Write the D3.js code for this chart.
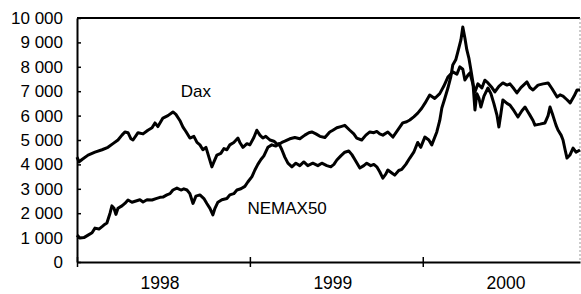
<!DOCTYPE html>
<html lang="de">
<head>
<meta charset="UTF-8">
<title>Dax und NEMAX50</title>
<script src="https://cdn.jsdelivr.net/npm/d3@7"></script>
<style>
  body { margin: 0; background: #fff; }
  svg { display: block; font-family: "Liberation Sans", Arial, Helvetica, sans-serif; }
</style>
</head>
<body>
<svg id="chart" width="581" height="294"></svg>
<script>
// time given as decimal years, values in index points
const daxTimes = [1998.000, 1998.012, 1998.029, 1998.064, 1998.104, 1998.145, 1998.179, 1998.208, 1998.237, 1998.260,
  1998.277, 1998.295, 1998.312, 1998.324, 1998.353, 1998.382, 1998.410, 1998.434, 1998.451, 1998.468,
  1998.497, 1998.526, 1998.555, 1998.572, 1998.595, 1998.613, 1998.630, 1998.653, 1998.676, 1998.694,
  1998.711, 1998.728, 1998.746, 1998.763, 1998.780, 1998.792, 1998.809, 1998.832, 1998.850, 1998.867,
  1998.884, 1998.907, 1998.931, 1998.942, 1998.960, 1998.983, 1999.000, 1999.023, 1999.040, 1999.058,
  1999.075, 1999.092, 1999.116, 1999.139, 1999.162, 1999.185, 1999.202, 1999.231, 1999.260, 1999.289,
  1999.318, 1999.341, 1999.358, 1999.382, 1999.405, 1999.434, 1999.462, 1999.480, 1999.503, 1999.526,
  1999.549, 1999.578, 1999.601, 1999.618, 1999.647, 1999.671, 1999.694, 1999.717, 1999.734, 1999.751,
  1999.769, 1999.798, 1999.827, 1999.855, 1999.884, 1999.907, 1999.925, 1999.948, 1999.971, 1999.994,
  2000.012, 2000.040, 2000.069, 2000.098, 2000.121, 2000.145, 2000.173, 2000.197, 2000.214, 2000.231,
  2000.243, 2000.260, 2000.272, 2000.289, 2000.301, 2000.318, 2000.341, 2000.358, 2000.376, 2000.399,
  2000.416, 2000.439, 2000.462, 2000.486, 2000.503, 2000.526, 2000.543, 2000.566, 2000.601, 2000.618,
  2000.636, 2000.665, 2000.694, 2000.723, 2000.746, 2000.775, 2000.792, 2000.809, 2000.832, 2000.850,
  2000.873, 2000.890, 2000.907];
const daxValues = [4300, 4100, 4200, 4380, 4500, 4600, 4700, 4850, 5000, 5200,
  5330, 5300, 5050, 5000, 5300, 5250, 5400, 5500, 5700, 5550,
  5900, 6000, 6150, 6050, 5800, 5530, 5350, 5080, 5150, 4900,
  4800, 4600, 4700, 4300, 3900, 4100, 4380, 4450, 4650, 4600,
  4800, 4900, 5080, 4900, 4700, 4850, 4800, 5100, 5400, 5200,
  5080, 5150, 5000, 4950, 4800, 4900, 4950, 5050, 5100, 5050,
  5200, 5300, 5330, 5250, 5150, 5100, 5330, 5400, 5500, 5550,
  5600, 5400, 5250, 5080, 5000, 5200, 5330, 5300, 5350, 5250,
  5200, 5330, 5120, 5400, 5700, 5750, 5820, 5950, 6100, 6300,
  6500, 6840, 6700, 6900, 7200, 7580, 7790, 7700, 8000, 7900,
  7460, 7650, 7750, 7300, 6970, 7300, 7130, 7450, 7340, 7150,
  6970, 7200, 7340, 7250, 7300, 7100, 6930, 7150, 7380, 7150,
  7050, 7250, 7300, 7340, 7100, 6760, 6850, 6800, 6650, 6520,
  6800, 7050, 7050];

const nemaxTimes = [1998.000, 1998.017, 1998.040, 1998.064, 1998.087, 1998.104, 1998.127, 1998.145, 1998.162, 1998.173,
  1998.191, 1998.202, 1998.214, 1998.225, 1998.237, 1998.260, 1998.277, 1998.295, 1998.318, 1998.341,
  1998.364, 1998.382, 1998.405, 1998.434, 1998.457, 1998.480, 1998.497, 1998.520, 1998.538, 1998.555,
  1998.578, 1998.601, 1998.618, 1998.636, 1998.653, 1998.671, 1998.688, 1998.711, 1998.734, 1998.751,
  1998.769, 1998.786, 1998.798, 1998.815, 1998.838, 1998.867, 1998.884, 1998.907, 1998.925, 1998.948,
  1998.971, 1998.988, 1999.012, 1999.029, 1999.046, 1999.064, 1999.081, 1999.104, 1999.127, 1999.150,
  1999.168, 1999.185, 1999.202, 1999.220, 1999.243, 1999.266, 1999.289, 1999.312, 1999.335, 1999.364,
  1999.393, 1999.416, 1999.445, 1999.468, 1999.486, 1999.503, 1999.526, 1999.549, 1999.572, 1999.590,
  1999.607, 1999.636, 1999.659, 1999.676, 1999.699, 1999.717, 1999.734, 1999.751, 1999.769, 1999.786,
  1999.798, 1999.821, 1999.838, 1999.861, 1999.879, 1999.902, 1999.925, 1999.948, 1999.971, 1999.988,
  2000.012, 2000.035, 2000.052, 2000.081, 2000.098, 2000.110, 2000.127, 2000.145, 2000.162, 2000.173,
  2000.191, 2000.202, 2000.220, 2000.231, 2000.243, 2000.254, 2000.266, 2000.277, 2000.289, 2000.301,
  2000.312, 2000.324, 2000.335, 2000.353, 2000.376, 2000.393, 2000.410, 2000.428, 2000.439, 2000.451,
  2000.462, 2000.486, 2000.503, 2000.526, 2000.549, 2000.572, 2000.590, 2000.607, 2000.618, 2000.636,
  2000.647, 2000.676, 2000.705, 2000.723, 2000.734, 2000.751, 2000.769, 2000.780, 2000.798, 2000.809,
  2000.821, 2000.832, 2000.850, 2000.867, 2000.884, 2000.907];
const nemaxValues = [1100, 980, 1000, 1100, 1200, 1390, 1350, 1450, 1550, 1600,
  2000, 2300, 2200, 1950, 2200, 2300, 2400, 2540, 2450, 2500,
  2550, 2460, 2550, 2540, 2600, 2650, 2660, 2750, 2800, 2950,
  3030, 2950, 3000, 2950, 2800, 2400, 2700, 2750, 2600, 2400,
  2200, 1930, 2200, 2450, 2550, 2600, 2750, 2800, 2950, 3000,
  3100, 3280, 3500, 3770, 4000, 4200, 4350, 4700, 4800, 4750,
  4850, 4600, 4300, 4050, 3900, 4050, 3950, 4100, 3950, 4050,
  3950, 4050, 3950, 3900, 4000, 4180, 4350, 4500, 4550, 4400,
  4200, 3850, 3950, 4050, 3950, 4000, 3900, 3700, 3440, 3600,
  3770, 3650, 3560, 3750, 3800, 4000, 4260, 4500, 4900, 4700,
  5120, 5000, 4800, 5330, 5800, 6310, 6700, 7130, 7600, 8070,
  8300, 8600, 9100, 9630, 9180, 8700, 8360, 7900, 7380, 6230,
  6900, 6720, 6350, 6800, 7130, 6900, 6500, 6020, 5530, 6100,
  6640, 6500, 6430, 6200, 5940, 6200, 6350, 6150, 6020, 5800,
  5610, 5650, 5700, 6000, 6350, 6000, 5600, 5410, 5200, 5000,
  4600, 4260, 4400, 4670, 4500, 4590];

const yTicks = [0, 1000, 2000, 3000, 4000, 5000, 6000, 7000, 8000, 9000, 10000];
const yearTicks = [1998, 1999, 2000];
const seriesNames = ["Dax", "NEMAX50"];
const timeEnd = 2000.907;

function toDate(t) {
    const yr = Math.floor(t);
    const start = new Date(yr, 0, 1), end = new Date(yr + 1, 0, 1);
    return new Date(+start + (t - yr) * (end - start));
}

const plotLeft = 77, plotRight = 580, plotTop = 18, plotBottom = 262;
const svg = d3.select("#chart");

const x = d3.scaleTime()
    .domain([toDate(1998), toDate(timeEnd)])
    .range([plotLeft, plotRight]);
const y = d3.scaleLinear()
    .domain([0, 10000])
    .range([plotBottom, plotTop]);

const de = d3.formatLocale({ decimal: ",", thousands: " ", grouping: [3], currency: ["", "€"] });

// frame: top line and dotted right edge
svg.append("line")
    .attr("x1", plotLeft).attr("x2", plotRight)
    .attr("y1", plotTop).attr("y2", plotTop)
    .attr("stroke", "#000").attr("stroke-width", 2);
svg.append("line")
    .attr("x1", plotRight).attr("x2", plotRight)
    .attr("y1", plotTop).attr("y2", plotBottom)
    .attr("stroke", "#999").attr("stroke-width", 1)
    .attr("stroke-dasharray", "2,2");

// y axis
const yAxis = svg.append("g")
    .attr("transform", `translate(${plotLeft},0)`)
    .call(d3.axisLeft(y).tickValues(yTicks).tickSizeOuter(0).tickSizeInner(7).tickPadding(7)
        .tickFormat(de.format(",")));
yAxis.select(".domain").attr("stroke-width", 2);
yAxis.selectAll(".tick line").attr("x2", 4).attr("stroke-width", 1.5);
yAxis.selectAll(".tick text")
    .attr("font-size", 17).attr("fill", "#000")
    .attr("font-family", "'Liberation Sans', Arial, sans-serif");

// x axis: ticks at year starts, labels centred in each year
const xAxis = svg.append("g")
    .attr("transform", `translate(0,${plotBottom})`)
    .call(d3.axisBottom(x).tickValues(yearTicks.map(d => toDate(d))).tickSizeOuter(0)
        .tickSizeInner(5).tickFormat(""));
xAxis.select(".domain").attr("stroke-width", 2);
xAxis.selectAll(".tick line").attr("y1", -5).attr("stroke-width", 1.5);

svg.append("g").selectAll("text")
    .data(yearTicks)
    .join("text")
    .attr("x", d => x(toDate(d + 0.48)))
    .attr("y", 289)
    .attr("text-anchor", "middle")
    .attr("font-size", 17.5)
    .text(d => d);

// series lines
const line = d3.line()
    .x(d => x(toDate(d[0])))
    .y(d => y(d[1]));

const dax = daxTimes.map((t, i) => [t, daxValues[i]]);
const nemax = nemaxTimes.map((t, i) => [t, nemaxValues[i]]);

svg.append("g").selectAll("path")
    .data([dax, nemax])
    .join("path")
    .attr("d", line)
    .attr("fill", "none")
    .attr("stroke", "#000")
    .attr("stroke-width", 3)
    .attr("stroke-linejoin", "round");

// series labels
svg.append("text")
    .attr("x", x(toDate(1998.6)))
    .attr("y", y(6780))
    .attr("font-size", 17)
    .text(seriesNames[0]);
svg.append("text")
    .attr("x", x(toDate(1998.986)))
    .attr("y", y(1960))
    .attr("font-size", 17)
    .text(seriesNames[1]);
</script>
</body>
</html>
